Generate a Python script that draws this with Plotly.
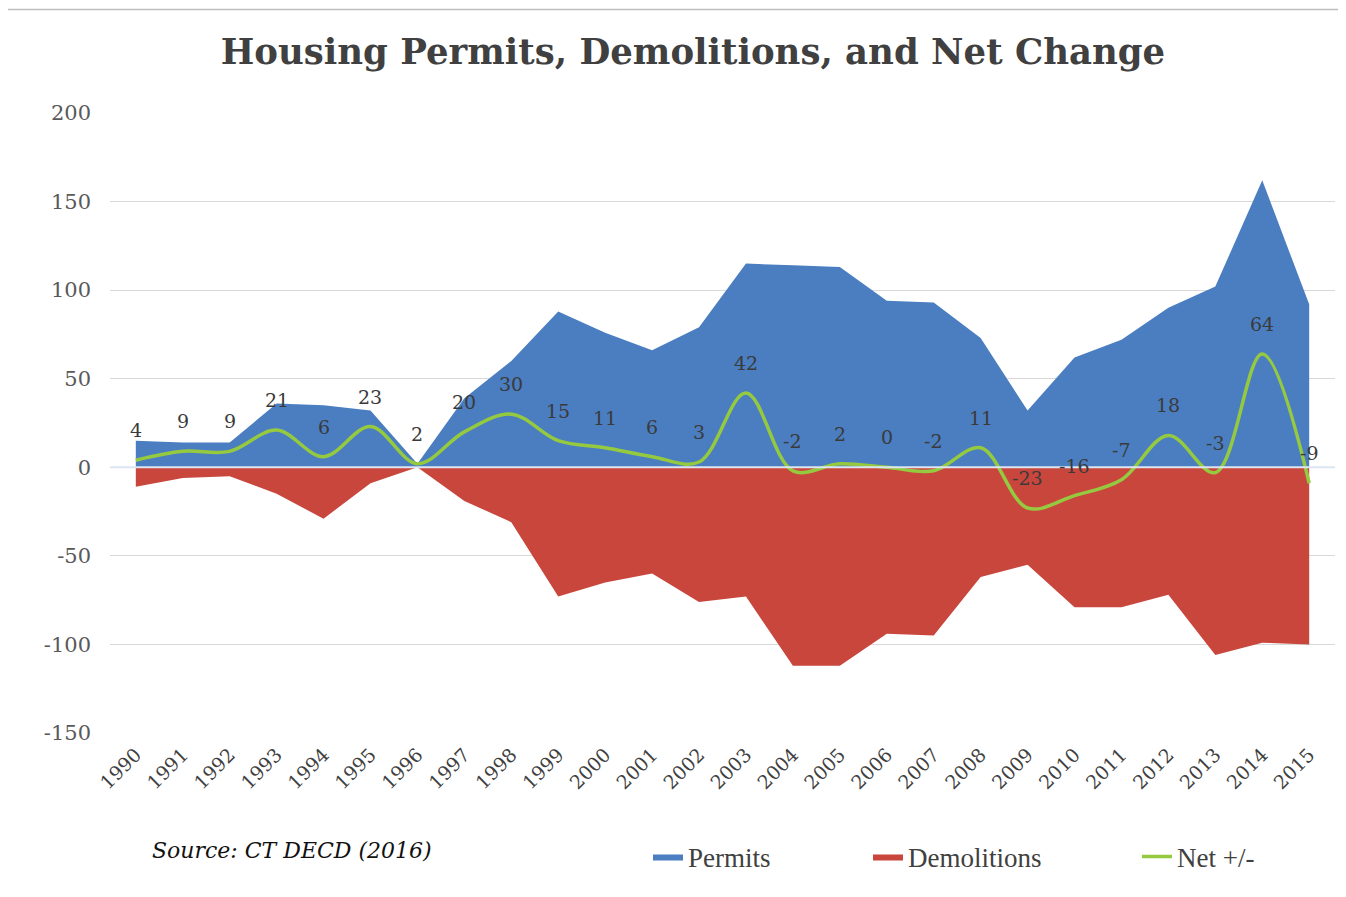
import plotly.graph_objects as go

years = [str(y) for y in range(1990, 2016)]
permits = [15, 14, 14, 36, 35, 32, 2, 39, 60, 88, 76, 66, 79, 115, 114, 113, 94, 93, 73, 32, 62, 72, 90, 102, 162, 92]
demolitions = [-11, -6, -5, -15, -29, -9, 0, -19, -31, -73, -65, -60, -76, -73, -112, -112, -94, -95, -62, -55, -79, -79, -72, -106, -99, -100]
net = [4, 9, 9, 21, 6, 23, 2, 20, 30, 15, 11, 6, 3, 42, -2, 2, 0, -2, 11, -23, -16, -7, 18, -3, 64, -9]
net_labels = [str(v) for v in net]
y_ticks = [-150, -100, -50, 0, 50, 100, 150, 200]
y_tick_text = ["-150", "-100", "-50", "0", "50", "100", "150", "200"]

SERIF = "DejaVu Serif"
BLUE = "#4A7EC0"
RED = "#C9463D"
GREEN = "#95C940"

fig = go.Figure()
fig.add_trace(go.Scatter(x=years, y=permits, name="Permits", mode="lines", legend="legend",
                         line=dict(width=0, color=BLUE), fill="tozeroy", fillcolor=BLUE))
fig.add_trace(go.Scatter(x=years, y=demolitions, name="Demolitions", mode="lines", legend="legend2",
                         line=dict(width=0, color=RED), fill="tozeroy", fillcolor=RED))
fig.add_trace(go.Scatter(x=years, y=net, name="Net +/-", mode="lines", legend="legend3",
                         line=dict(width=3.5, color=GREEN, shape="spline", smoothing=1.0)))

for i, (v, lab) in enumerate(zip(net, net_labels)):
    fig.add_annotation(x=i, y=v, text=lab, showarrow=False, yshift=30,
                       font=dict(family=SERIF, size=19, color="#3a3a3a"))

fig.add_annotation(xref="paper", yref="paper", x=0.033, y=-0.19, xanchor="left", yanchor="middle",
                   text="<i>Source: CT DECD (2016)</i>", showarrow=False,
                   font=dict(family=SERIF, size=22, color="#111111"))

# zero axis line on top of areas
fig.add_shape(type="line", xref="paper", yref="y", x0=0, x1=1, y0=0, y1=0,
              line=dict(color="#dce6f2", width=2), layer="above")
# top border line of the image
fig.add_shape(type="line", xref="paper", yref="paper", x0=-0.085, x1=1.01, y0=1.167, y1=1.167,
              line=dict(color="#bfbfbf", width=1.5), layer="above")

leg_font = dict(family="Liberation Serif", size=27, color="#404040")
fig.update_layout(
    width=1338, height=889,
    margin=dict(l=102, r=11, t=105, b=164),
    paper_bgcolor="white", plot_bgcolor="white",
    title=dict(text="<b>Housing Permits, Demolitions, and Net Change</b>",
               x=(693 - 8) / 1338, xanchor="center", y=(889 - 44) / 889, yanchor="middle",
               font=dict(family=SERIF, size=35.5, color="#404040")),
    showlegend=True,
    legend=dict(orientation="h", x=(648 - 110) / 1225, y=-0.2, xanchor="left", yanchor="middle",
                font=leg_font, bgcolor="rgba(0,0,0,0)"),
    legend2=dict(orientation="h", x=(868 - 110) / 1225, y=-0.2, xanchor="left", yanchor="middle",
                 font=leg_font, bgcolor="rgba(0,0,0,0)"),
    legend3=dict(orientation="h", x=(1137 - 110) / 1225, y=-0.2, xanchor="left", yanchor="middle",
                 font=leg_font, bgcolor="rgba(0,0,0,0)"),
    xaxis=dict(type="category", range=[-0.55, 25.55], showgrid=False, showline=False,
               tickangle=-45, tickfont=dict(family=SERIF, size=19, color="#404040"),
               ticks="", zeroline=False, ticklabelstandoff=6),
    yaxis=dict(range=[-150, 200], tickvals=y_ticks, ticktext=y_tick_text,
               showgrid=True, gridcolor="#d9d9d9",
               gridwidth=1, zeroline=False, showline=False,
               tickfont=dict(family=SERIF, size=21, color="#595959"),
               ticklabelstandoff=18),
)

fig.write_html("out.html")
